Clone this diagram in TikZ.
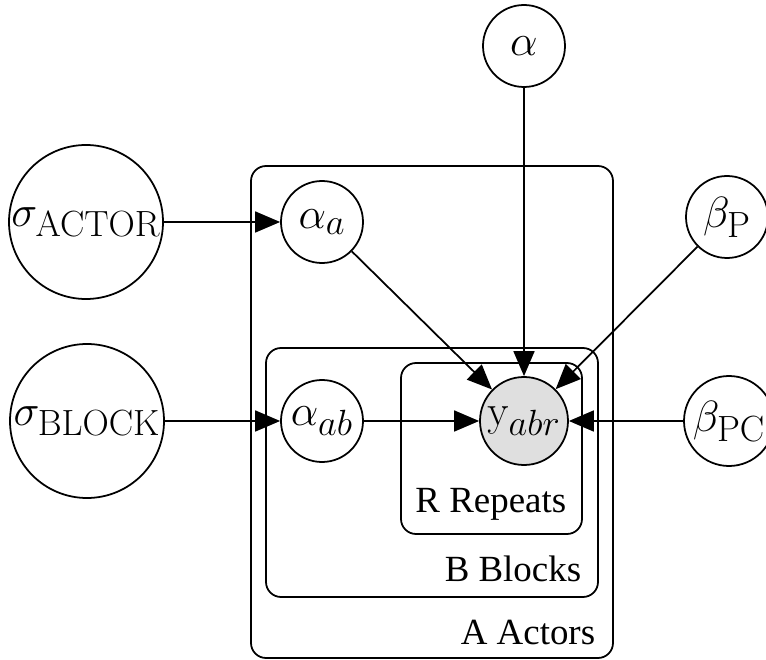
\documentclass[tikz,border=0pt]{standalone}
\usepackage[no-math]{fontspec}
\newfontfamily\platefont{Liberation Serif}
\usetikzlibrary{positioning, arrows.meta}

\begin{document}
\begin{tikzpicture}[>={Triangle[length=0.5cm,width=0.42cm]}, line width=1pt,
    node distance=4cm, on grid,
    latent/.style={circle, draw, inner sep=0pt, minimum size=1.64cm, font=\fontsize{27.5}{32}\selectfont},
    obs/.style={latent, fill=gray!25, minimum size=1.76cm},
    plate/.style={draw, rounded corners=0.3cm},
    platelabel/.style={anchor=base east, inner sep=0pt, font=\platefont\fontsize{21}{25}\selectfont}]
  \useasboundingbox (0,0) rectangle (15.32,-13.2);

  \node[latent, minimum size=3.08cm] (sactor) at (1.72,-4.44) {$\sigma_{\mathrm{ACTOR}}$};
  \node[latent] (aa) [right=4.72cm of sactor] {$\alpha_a$};
  \node[latent] (aab) [below=3.98cm of aa] {$\alpha_{ab}$};
  \node[latent, minimum size=3.08cm] (sblock) [left=4.7cm of aab] {$\sigma_{\mathrm{BLOCK}}$};
  \node[obs] (y) [right=4.04cm of aab] {$\mathrm{y}_{abr}$};
  \node[latent] (alpha) [above=7.5cm of y] {$\alpha$};
  \node[latent] (bp) [above right=4.08cm and 4.06cm of y] {$\beta_{\mathrm{P}}$};
  \node[latent, minimum size=1.8cm] (bpc) [right=4.1cm of y] {$\beta_{\mathrm{PC}}$};

  % plates
  \draw[plate] (5.02,-3.32) rectangle (12.26,-13.16);
  \draw[plate] (5.32,-6.96) rectangle (11.96,-11.94);
  \draw[plate] (8.02,-7.26) rectangle (11.64,-10.68);
  \node[platelabel] (lrep) at (11.34,-10.26) {R Repeats};
  \node[platelabel] (lblk) at (11.64,-11.64) {B Blocks};
  \node[platelabel] (lact) at (11.92,-12.9) {A Actors};

  \path[->]
    (sactor) edge (aa)
    (sblock) edge (aab)
    (aa) edge (y)
    (aab) edge (y)
    (alpha) edge (y)
    (bp) edge (y)
    (bpc) edge (y);
\end{tikzpicture}
\end{document}
